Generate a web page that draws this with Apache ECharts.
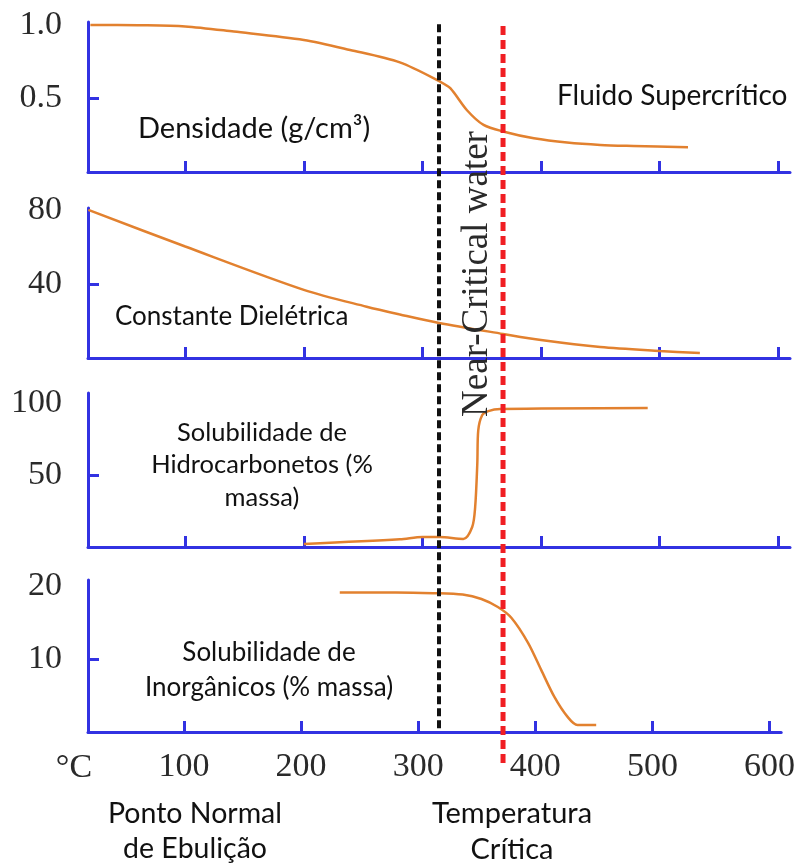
<!DOCTYPE html>
<html>
<head>
<meta charset="utf-8">
<style>
  html, body { margin: 0; padding: 0; background: #fff; }
  #chart { width: 798px; height: 866px; }
</style>
<script src="https://cdn.jsdelivr.net/npm/echarts@6/dist/echarts.min.js"></script>
</head>
<body>
<div id="chart"></div>
<script>
// temperature axis (°C)
const tempMin = 18;
const tempMax = 610;
const tempTicks = [100, 200, 300, 400, 500, 600];

// densidade (g/cm3)
const densT = [20, 60, 100, 141, 200, 239, 281, 315, 323.5, 337.6, 351.6, 368.9, 394, 422, 450, 478, 524];
const densV = [1.0, 0.998, 0.99, 0.955, 0.898, 0.83, 0.745, 0.614, 0.57, 0.42, 0.32, 0.274, 0.229, 0.2, 0.184, 0.177, 0.168];
const densTicks = [0.5, 1.0];

// constante dielétrica
const dielT = [18.3, 100, 200, 253, 281, 314, 368, 400, 450, 500, 534];
const dielV = [80, 60.2, 36.8, 27.7, 23.5, 18.9, 13, 9.7, 5.9, 3.8, 2.7];
const dielTicks = [40, 80];

// solubilidade de hidrocarbonetos (% massa)
const hcT = [200, 281, 300, 315, 334.5, 342, 344.5, 346.3, 347.1, 350.5, 355.6, 365.7, 490];
const hcV = [2.1, 5.3, 7.0, 6.9, 5.6, 13.9, 27.8, 58, 81, 91.7, 94.4, 95.8, 96.5];
const hcTicks = [50, 100];

// solubilidade de inorgânicos (% massa)
const inorgT = [233, 281, 313, 338, 354, 368, 379.7, 393.8, 405, 416.3, 427.4, 436, 452];
const inorgV = [19.1, 19.1, 19.0, 18.8, 18.2, 17.1, 15.6, 12.2, 8.5, 4.8, 2.1, 0.96, 0.96];
const inorgTicks = [10, 20];

// vertical reference lines
const nearCriticalT = 314;
const criticalT = 368;

const blue = '#3232e2';
const orange = '#e2812f';
const serif = 'Liberation Serif';
const sans = 'Lato';

const chart = echarts.init(document.getElementById('chart'));

const panels = [
  { top: 22, height: 150, max: 1.02, ticks: densTicks, fmt: v => v.toFixed(1), t: densT, v: densV },
  { top: 208, height: 150, max: 81, ticks: dielTicks, fmt: v => String(v), t: dielT, v: dielV },
  { top: 393, height: 154, max: 107, ticks: hcTicks, fmt: v => String(v), t: hcT, v: hcV },
  { top: 580, height: 152, max: 20.8, ticks: inorgTicks, fmt: v => String(v), t: inorgT, v: inorgV }
];

const grid = panels.map(p => ({ left: 88, right: 8, top: p.top, height: p.height }));
// overlay for the dashed lines
grid.push({ left: 88, right: 8, top: 22, height: 741 });

const xAxis = panels.map((p, i) => ({
  type: 'value',
  gridIndex: i,
  min: tempMin,
  max: tempMax,
  axisLine: { lineStyle: { color: blue, width: 3 } },
  axisTick: { inside: true, length: 11, customValues: tempTicks, lineStyle: { color: blue, width: 3 } },
  axisLabel: {
    show: i === 3,
    customValues: tempTicks,
    margin: 18,
    fontSize: 34,
    fontFamily: serif,
    color: '#2a2a2a'
  },
  splitLine: { show: false }
}));
xAxis.push({ type: 'value', gridIndex: 4, min: tempMin, max: tempMax, show: false });

const yAxis = panels.map((p, i) => ({
  type: 'value',
  gridIndex: i,
  min: 0,
  max: p.max,
  axisLine: { show: true, lineStyle: { color: blue, width: 3 } },
  axisTick: { show: true, inside: true, length: 11, customValues: [p.ticks[0]], lineStyle: { color: blue, width: 3 } },
  axisLabel: {
    customValues: p.ticks,
    formatter: p.fmt,
    margin: 26,
    fontSize: 34,
    fontFamily: serif,
    color: '#2a2a2a'
  },
  splitLine: { show: false }
}));
yAxis.push({ type: 'value', gridIndex: 4, min: 0, max: 1, show: false });

const series = panels.map((p, i) => ({
  type: 'line',
  xAxisIndex: i,
  yAxisIndex: i,
  data: p.t.map((t, k) => [t, p.v[k]]),
  showSymbol: false,
  smooth: 0.3,
  lineStyle: { color: orange, width: 2.5 },
  z: 3
}));

series.push({
  type: 'line',
  xAxisIndex: 4,
  yAxisIndex: 4,
  data: [[nearCriticalT, 0.047], [nearCriticalT, 1]],
  showSymbol: false,
  lineStyle: { color: '#111', width: 4, type: [8, 4] },
  z: 5
});
series.push({
  type: 'line',
  xAxisIndex: 4,
  yAxisIndex: 4,
  data: [[criticalT, 0], [criticalT, 1]],
  showSymbol: false,
  lineStyle: { color: '#f01e23', width: 5, type: [9, 5] },
  z: 6
});

function label(text, x, y, size, align, lh) {
  return {
    type: 'text',
    x: x,
    y: y,
    z: 10,
    style: {
      text: text,
      font: size + 'px ' + sans,
      fill: '#111',
      textAlign: align || 'left',
      textVerticalAlign: 'middle',
      lineHeight: lh || size * 1.2
    }
  };
}

chart.setOption({
  animation: false,
  grid: grid,
  xAxis: xAxis,
  yAxis: yAxis,
  series: series,
  graphic: [
    label('Fluido Supercrítico', 557, 96, 28),
    label('Densidade (g/cm³)', 138, 129, 29),
    label('Constante Dielétrica', 115, 317, 26),
    label('Solubilidade de\nHidrocarbonetos (%\nmassa)', 262, 465, 25.5, 'center', 32.5),
    label('Solubilidade de\nInorgânicos (% massa)', 269, 670, 26, 'center', 35),
    label('Ponto Normal\nde Ebulição', 195, 831, 28.5, 'center', 35),
    label('Temperatura\nCrítica', 512, 832, 29, 'center', 36),
    {
      type: 'text',
      x: 74,
      y: 768,
      z: 10,
      style: { text: '°C', font: '34px ' + serif, fill: '#2a2a2a', textAlign: 'center', textVerticalAlign: 'middle' }
    },
    {
      type: 'text',
      x: 477,
      y: 274,
      rotation: Math.PI / 2,
      z: 10,
      style: { text: 'Near-Critical water', font: '37px ' + serif, fill: '#2a2a2a', textAlign: 'center', textVerticalAlign: 'middle' }
    }
  ]
});
</script>
</body>
</html>
